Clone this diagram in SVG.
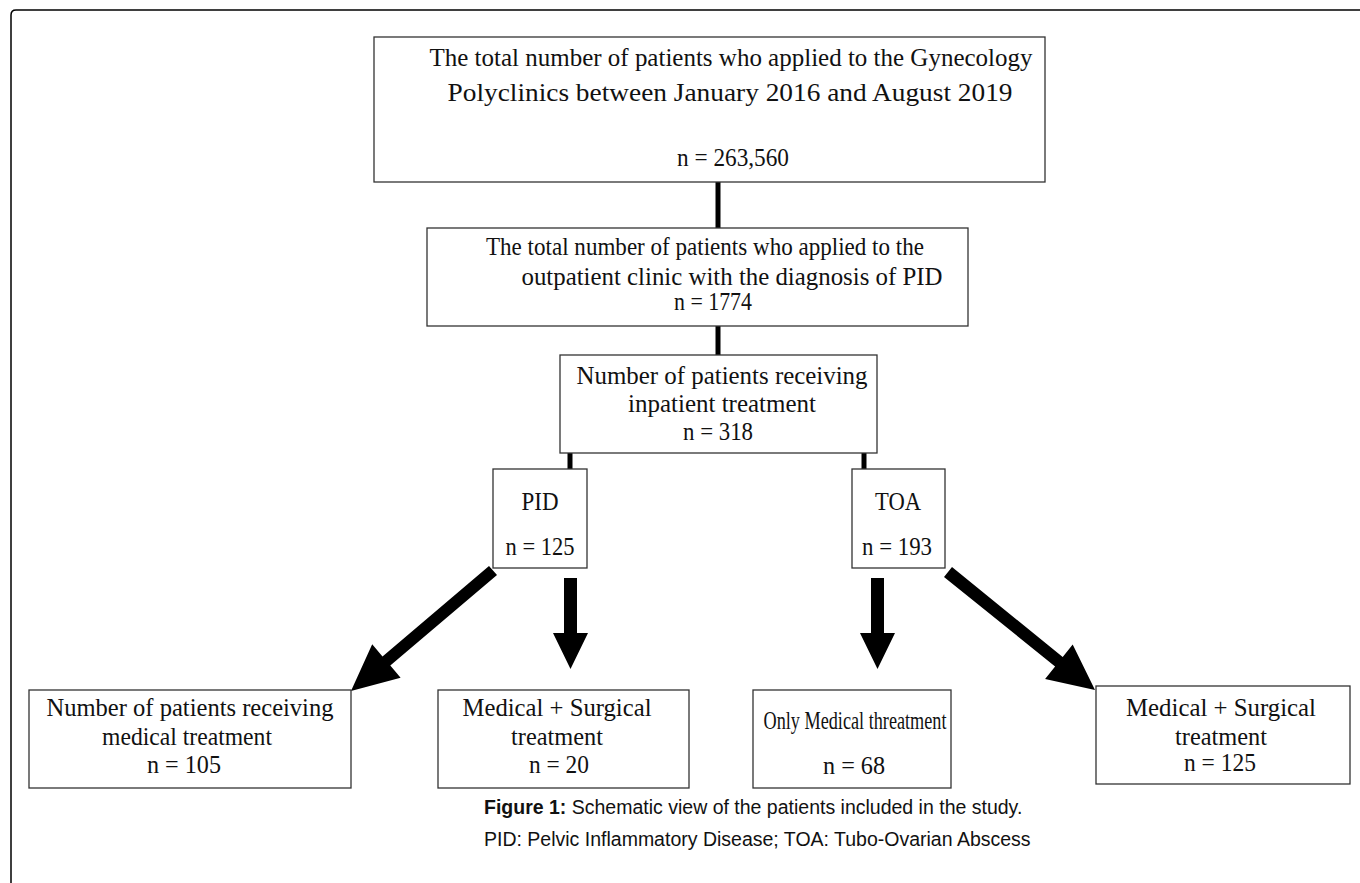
<svg xmlns="http://www.w3.org/2000/svg" width="1360" height="883" viewBox="0 0 1360 883">
<style>
.box{fill:#fff;stroke:#333;stroke-width:1.3}
.t{font-family:"Liberation Serif","Times New Roman",serif;font-size:25px;fill:#111;text-anchor:middle}
.cap{font-family:"Liberation Sans",Arial,sans-serif;font-size:19.5px;fill:#111}
.conn{stroke:#000;stroke-width:5;fill:none}
.arr{fill:#000}
</style>
<rect width="1360" height="883" fill="#fff"/>
<path d="M11,883 V15 Q11,10 16,10 H1360" fill="none" stroke="#000" stroke-width="1.5"/>
<g id="connectors">
<line class="conn" x1="718" y1="182" x2="718" y2="228"/>
<line class="conn" x1="718" y1="326" x2="718" y2="355"/>
<line class="conn" x1="570" y1="453" x2="570" y2="469"/>
<line class="conn" x1="864" y1="453" x2="864" y2="469"/>
<polygon class="arr" points="497,575 390.3,665.6 400.6,677.8 351,691 372.2,644.2 382.5,656.4 489,566"/>
<polygon class="arr" points="564,578 577,578 577,633 588,633 570.5,669 553,633 564,633"/>
<polygon class="arr" points="871,578 884,578 884,633 895,633 877.5,669 860,633 871,633"/>
<polygon class="arr" points="952,567 1062.7,657.1 1072.7,644.6 1095,690 1045.1,679 1055.1,666.5 944,577"/>
</g>
<g id="n-total">
<rect class="box" x="374" y="37" width="671" height="145"/>
<text class="t" x="731" y="66" textLength="603" lengthAdjust="spacingAndGlyphs">The total number of patients who applied to the Gynecology</text>
<text class="t" x="730" y="101" textLength="565" lengthAdjust="spacingAndGlyphs">Polyclinics between January 2016 and August 2019</text>
<text class="t" x="733" y="166" textLength="112" lengthAdjust="spacingAndGlyphs">n = 263,560</text>
</g>
<g id="n-outpatient">
<rect class="box" x="427" y="228" width="541" height="98"/>
<text class="t" x="705" y="255" textLength="438" lengthAdjust="spacingAndGlyphs">The total number of patients who applied to the</text>
<text class="t" x="732" y="285" textLength="421" lengthAdjust="spacingAndGlyphs">outpatient clinic with the diagnosis of PID</text>
<text class="t" x="713" y="310" textLength="78" lengthAdjust="spacingAndGlyphs">n = 1774</text>
</g>
<g id="n-inpatient">
<rect class="box" x="560" y="355" width="317" height="98"/>
<text class="t" x="722" y="384" textLength="291" lengthAdjust="spacingAndGlyphs">Number of patients receiving</text>
<text class="t" x="722" y="412" textLength="188" lengthAdjust="spacingAndGlyphs">inpatient treatment</text>
<text class="t" x="718" y="440" textLength="70" lengthAdjust="spacingAndGlyphs">n = 318</text>
</g>
<g id="n-pid">
<rect class="box" x="493" y="469" width="94" height="99"/>
<text class="t" x="540" y="510" textLength="37" lengthAdjust="spacingAndGlyphs">PID</text>
<text class="t" x="540" y="555" textLength="69" lengthAdjust="spacingAndGlyphs">n = 125</text>
</g>
<g id="n-toa">
<rect class="box" x="852" y="469" width="93" height="99"/>
<text class="t" x="898" y="510" textLength="46" lengthAdjust="spacingAndGlyphs">TOA</text>
<text class="t" x="897" y="555" textLength="70" lengthAdjust="spacingAndGlyphs">n = 193</text>
</g>
<g id="n-pid-medical">
<rect class="box" x="29" y="690" width="322" height="98"/>
<text class="t" x="190" y="716" textLength="287" lengthAdjust="spacingAndGlyphs">Number of patients receiving</text>
<text class="t" x="187" y="745" textLength="170" lengthAdjust="spacingAndGlyphs">medical treatment</text>
<text class="t" x="184" y="773" textLength="74" lengthAdjust="spacingAndGlyphs">n = 105</text>
</g>
<g id="n-pid-surgical">
<rect class="box" x="438" y="690" width="251" height="98"/>
<text class="t" x="557" y="716" textLength="189" lengthAdjust="spacingAndGlyphs">Medical + Surgical</text>
<text class="t" x="557" y="745" textLength="92" lengthAdjust="spacingAndGlyphs">treatment</text>
<text class="t" x="559" y="773" textLength="60" lengthAdjust="spacingAndGlyphs">n = 20</text>
</g>
<g id="n-toa-medical">
<rect class="box" x="753" y="690" width="198" height="98"/>
<text class="t" x="855" y="729" textLength="183" lengthAdjust="spacingAndGlyphs">Only Medical threatment</text>
<text class="t" x="854" y="774" textLength="62" lengthAdjust="spacingAndGlyphs">n = 68</text>
</g>
<g id="n-toa-surgical">
<rect class="box" x="1096" y="686" width="254" height="98"/>
<text class="t" x="1221" y="716" textLength="190" lengthAdjust="spacingAndGlyphs">Medical + Surgical</text>
<text class="t" x="1221" y="745" textLength="92" lengthAdjust="spacingAndGlyphs">treatment</text>
<text class="t" x="1220" y="771" textLength="72" lengthAdjust="spacingAndGlyphs">n = 125</text>
</g>
<g id="caption">
<text class="cap" x="484" y="814"><tspan font-weight="bold">Figure 1:</tspan> Schematic view of the patients included in the study.</text>
<text class="cap" x="484" y="846">PID: Pelvic Inflammatory Disease; TOA: Tubo-Ovarian Abscess</text>
</g>
</svg>
